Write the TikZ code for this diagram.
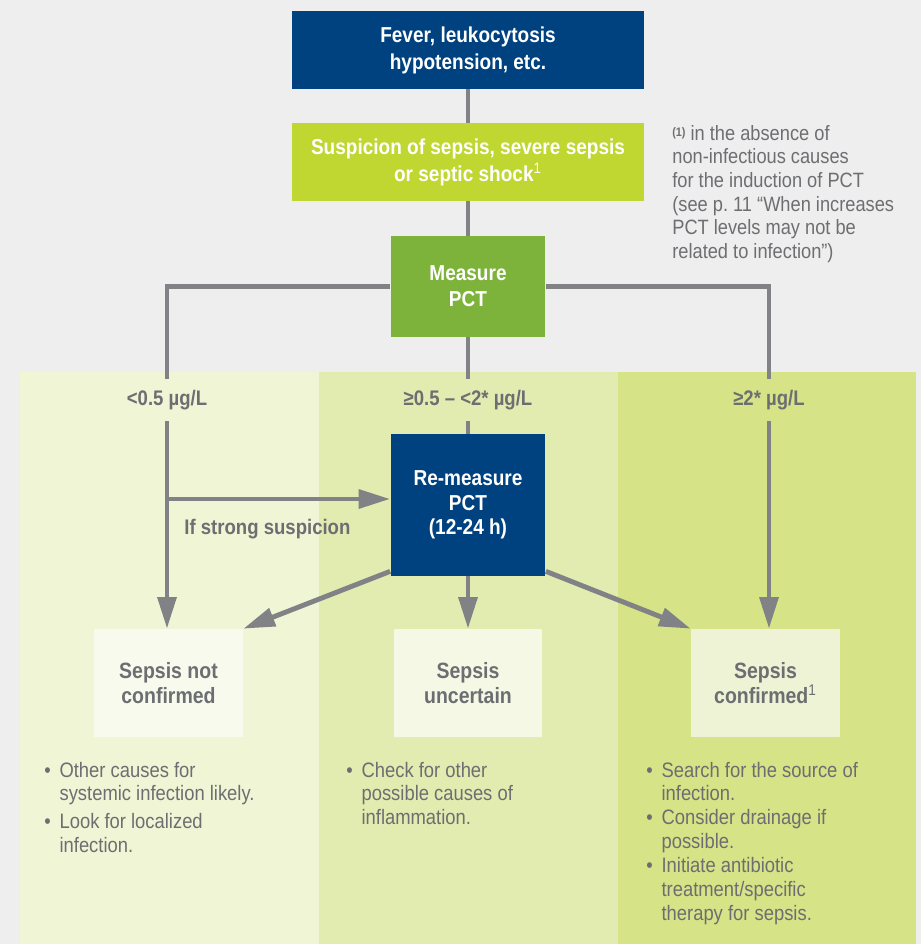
\documentclass[tikz,border=0pt]{standalone}
\usepackage{fontspec}
\setmainfont{Liberation Sans}[FakeStretch=0.88]
\usetikzlibrary{arrows.meta,positioning}

\definecolor{pctblue}{HTML}{00417F}
\definecolor{pctlime}{HTML}{BFD730}
\definecolor{pctgreen}{HTML}{7DB33A}
\definecolor{pctline}{HTML}{808286}
\definecolor{pcttext}{HTML}{6D6E71}
\definecolor{pctbg}{HTML}{EEEEEE}
\definecolor{zoneA}{HTML}{F0F5D5}
\definecolor{zoneB}{HTML}{E2EBB0}
\definecolor{zoneC}{HTML}{D6E386}
\definecolor{outA}{HTML}{F8FAEE}
\definecolor{outB}{HTML}{F4F8E4}
\definecolor{outC}{HTML}{EEF3D5}

\tikzset{
	box/.style={align=center, inner sep=0pt, text=white,
		font=\fontsize{12.3}{15.3}\selectfont\bfseries},
	outbox/.style={align=center, inner sep=0pt, minimum width=2.98cm, minimum height=2.16cm,
		text=pcttext, font=\fontsize{12.6}{14.2}\selectfont\bfseries},
	level/.style={inner sep=0pt, minimum height=0.84cm, text=pcttext,
		font=\fontsize{12}{14}\selectfont\bfseries},
	link/.style={draw=pctline, line width=2.8pt},
	arr/.style={link, -{Triangle[length=18pt,width=10.5pt]}},
	bullets/.style={anchor=north west, inner sep=0pt, text=pcttext,
		font=\fontsize{11.9}{13.6}\selectfont, align=left},
}

\begin{document}
\begin{tikzpicture}[x=0.02cm, y=-0.02cm]
\pgfmathsetmacro{\colA}{167}
\pgfmathsetmacro{\colB}{468}
\pgfmathsetmacro{\colC}{769}

% background and the three zones
\fill[pctbg] (0,0) rectangle (921,944);
\fill[zoneA] (20,372) rectangle (319,944);
\fill[zoneB] (319,372) rectangle (618,944);
\fill[zoneC] (618,372) rectangle (916,944);

\node[box, fill=pctblue, minimum width=7.04cm, minimum height=1.56cm] (fever) at (\colB,50)
	{Fever, leukocytosis\\hypotension, etc.};
\node[box, fill=pctlime, minimum width=7.04cm, minimum height=1.56cm] (suspicion) at (\colB,162)
	{Suspicion of sepsis, severe sepsis\\or septic shock\textsuperscript{\mdseries 1}};
\node[box, fill=pctgreen, minimum width=3.1cm, minimum height=2.02cm,
	font=\fontsize{12.3}{14.7}\selectfont\bfseries] (measure) at (\colB,286.5) {Measure\\PCT};

\node[anchor=north west, inner sep=0pt, align=left, text=pcttext,
	font=\fontsize{11.8}{13.4}\selectfont] (note) at (672,125)
	{{\scriptsize\bfseries\raisebox{0.55ex}{(1)}} in the absence of\\non-infectious causes\\for the induction of PCT\\(see p.~11 “When increases\\PCT levels may not be\\related to infection”)};

\node[level] (lowlab) at (\colA,400) {<0.5 µg/L};
\node[level] (midlab) at (\colB,400) {≥0.5 – <2* µg/L};
\node[level] (highlab) at (\colC,400) {≥2* µg/L};

\node[box, fill=pctblue, minimum width=3.1cm, minimum height=2.84cm,
	font=\fontsize{12.3}{13.9}\selectfont\bfseries] (remeasure) at (\colB,505)
	{Re-measure\\PCT\\(12-24 h)};

\node[outbox, fill=outA] (notconf) at (168.5,683) {Sepsis not\\confirmed};
\node[outbox, fill=outB] (uncertain) at (\colB,683) {Sepsis\\uncertain};
\node[outbox, fill=outC] (confirmed) at (765.5,683) {Sepsis\\confirmed\textsuperscript{\mdseries 1}};

\coordinate (strong) at (\colA,499);

% connectors
\draw[link] (fever) -- (suspicion);
\draw[link] (suspicion) -- (measure);
\draw[link] (lowlab.north) |- (measure.west);
\draw[link] (measure.east) -| (highlab.north);
\draw[link] (measure.south) -- (midlab.north);
\draw[link] (midlab.south) -- (remeasure.north);

\draw[arr] (lowlab.south) -- (lowlab.south |- notconf.north);
\draw[arr] (strong) -- (strong -| remeasure.west)
	node[pos=0.45, below=7pt, text=pcttext, font=\fontsize{12}{14}\selectfont\bfseries] (stronglab) {If strong suspicion};
\draw[arr] (remeasure.south) -- (uncertain.north);
\draw[arr] ([yshift=0.1cm]remeasure.south west) -- (notconf.north east);
\draw[arr] ([yshift=0.1cm]remeasure.south east) -- (confirmed.north west);
\draw[arr] (highlab.south) -- (highlab.south |- confirmed.north);

% what to do next
\node[bullets] (notlist) at (44,760)
	{\begin{tabular}{@{}l@{\hspace{5pt}}l@{}}
	• & Other causes for\\ & systemic infection likely.\\[2pt]
	• & Look for localized\\ & infection.
	\end{tabular}};
\node[bullets] (uncertainlist) at (346,760)
	{\begin{tabular}{@{}l@{\hspace{5pt}}l@{}}
	• & Check for other\\ & possible causes of\\ & inflammation.
	\end{tabular}};
\node[bullets] (confirmedlist) at (646,760)
	{\begin{tabular}{@{}l@{\hspace{5pt}}l@{}}
	• & Search for the source of\\ & infection.\\
	• & Consider drainage if\\ & possible.\\
	• & Initiate antibiotic\\ & treatment/specific\\ & therapy for sepsis.
	\end{tabular}};
\end{tikzpicture}
\end{document}
